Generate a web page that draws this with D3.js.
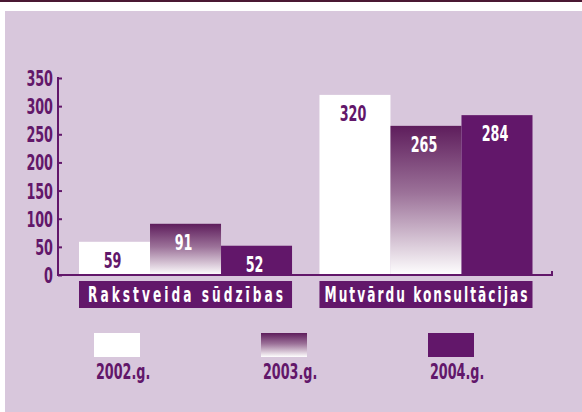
<!DOCTYPE html>
<html>
<head>
<meta charset="utf-8">
<script src="https://cdn.jsdelivr.net/npm/d3@7"></script>
<style>
  body { margin: 0; background: #fff; }
  text { font-family: "DejaVu Sans", sans-serif; font-weight: bold; }
</style>
</head>
<body>
<div id="chart"></div>
<script>
// data
var categories = ["Rakstveida sūdzības", "Mutvārdu konsultācijas"];
var years = ["2002.g.", "2003.g.", "2004.g."];
var values2002 = [59, 320];
var values2003 = [91, 265];
var values2004 = [52, 284];
var yTicks = [0, 50, 100, 150, 200, 250, 300, 350];

var purple = "#62176a";
var W = 582, H = 412;
var sx = 0.58; // squeeze text horizontally to look like a condensed face

function pos(x, yy) { return "translate(" + x + "," + yy + ") scale(" + sx + ",1)"; }

var svg = d3.select("#chart").append("svg")
    .attr("width", W)
    .attr("height", H);

// gradient for 2003
var defs = svg.append("defs");
var grad = defs.append("linearGradient")
    .attr("id", "grad03")
    .attr("x1", 0).attr("y1", 0).attr("x2", 0).attr("y2", 1);
grad.append("stop").attr("offset", "0%").attr("stop-color", "#5e1d5c");
grad.append("stop").attr("offset", "45%").attr("stop-color", "#9c7299");
grad.append("stop").attr("offset", "100%").attr("stop-color", "#ffffff");

// page background
svg.append("rect").attr("x", 0).attr("y", 0).attr("width", W).attr("height", 2).attr("fill", "#4a1832");
svg.append("rect").attr("x", 5).attr("y", 11).attr("width", W - 5).attr("height", H - 11).attr("fill", "#d8c7dc");

// scales
var x0 = d3.scaleBand()
    .domain(categories)
    .range([79, 532.5])
    .paddingInner(0.114)
    .paddingOuter(0);

var x1 = d3.scaleBand()
    .domain(years)
    .range([0, x0.bandwidth()])
    .padding(0);

var y = d3.scaleLinear()
    .domain([0, 350])
    .range([275, 78]);

var fills = { "2002.g.": "#ffffff", "2003.g.": "url(#grad03)", "2004.g.": purple };
var labelCol = { "2002.g.": purple, "2003.g.": "#ffffff", "2004.g.": "#ffffff" };

var rows = [];
categories.forEach(function(c, i) {
  rows.push({ cat: c, year: years[0], v: values2002[i] });
  rows.push({ cat: c, year: years[1], v: values2003[i] });
  rows.push({ cat: c, year: years[2], v: values2004[i] });
});

// bars
svg.selectAll("rect.bar")
  .data(rows)
  .enter()
  .append("rect")
    .attr("class", "bar")
    .attr("x", function(d) { return x0(d.cat) + x1(d.year); })
    .attr("y", function(d) { return y(d.v); })
    .attr("width", x1.bandwidth())
    .attr("height", function(d) { return y(0) - y(d.v); })
    .attr("fill", function(d) { return fills[d.year]; });

// value labels
svg.selectAll("text.val")
  .data(rows)
  .enter()
  .append("text")
    .attr("class", "val")
    .attr("transform", function(d) { return pos(x0(d.cat) + x1(d.year) + x1.bandwidth() / 2 - 2, y(d.v) + 26); })
    .attr("text-anchor", "middle")
    .attr("font-size", 22)
    .attr("fill", function(d) { return labelCol[d.year]; })
    .text(function(d) { return d.v; });

// y axis
var yAxis = svg.append("g")
    .attr("transform", "translate(58,0)")
    .call(d3.axisRight(y).tickValues(yTicks).tickSize(4).tickFormat(""));
yAxis.select(".domain").remove();
yAxis.selectAll("line").attr("stroke", purple).attr("stroke-width", 2);

svg.append("line")
    .attr("x1", 58).attr("x2", 58)
    .attr("y1", y(350) - 1).attr("y2", y(0) + 1)
    .attr("stroke", purple).attr("stroke-width", 2);

svg.selectAll("text.ytick")
  .data(yTicks)
  .enter()
  .append("text")
    .attr("class", "ytick")
    .attr("transform", function(d) { return pos(53, y(d) + 8); })
    .attr("text-anchor", "end")
    .attr("font-size", 22)
    .attr("fill", purple)
    .text(function(d) { return d; });

// baseline
svg.append("line")
    .attr("x1", 57).attr("x2", 553)
    .attr("y1", y(0)).attr("y2", y(0))
    .attr("stroke", purple).attr("stroke-width", 2);
svg.append("line")
    .attr("x1", 552).attr("x2", 552)
    .attr("y1", y(0)).attr("y2", y(0) - 4)
    .attr("stroke", purple).attr("stroke-width", 2);

// category boxes
var catW = { "Rakstveida sūdzības": 195, "Mutvārdu konsultācijas": 203 };
var cg = svg.selectAll("g.cat")
  .data(categories)
  .enter()
  .append("g")
    .attr("class", "cat");
cg.append("rect")
    .attr("x", function(d) { return x0(d); })
    .attr("y", 281)
    .attr("width", x0.bandwidth())
    .attr("height", 27)
    .attr("fill", purple);
cg.append("text")
    .attr("transform", function(d) { return pos(x0(d) + x0.bandwidth() / 2, 302); })
    .attr("text-anchor", "middle")
    .attr("font-size", 21)
    .attr("font-weight", "normal")
    .attr("fill", "#ffffff")
    .attr("textLength", function(d) { return catW[d] / sx; })
    .attr("lengthAdjust", "spacing")
    .text(function(d) { return d; });

// legend
var legX = d3.scalePoint()
    .domain(years)
    .range([94, 428]);
var lg = svg.selectAll("g.leg")
  .data(years)
  .enter()
  .append("g")
    .attr("class", "leg")
    .attr("transform", function(d) { return "translate(" + legX(d) + ",333)"; });
lg.append("rect")
    .attr("width", 46)
    .attr("height", 24)
    .attr("fill", function(d) { return fills[d]; });
lg.append("text")
    .attr("transform", pos(2, 46))
    .attr("font-size", 22)
    .attr("fill", purple)
    .text(function(d) { return d; });
</script>
</body>
</html>
